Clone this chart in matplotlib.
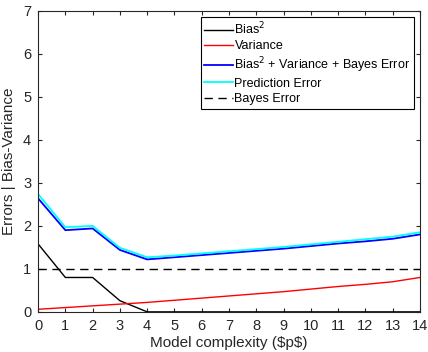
import matplotlib
matplotlib.use("Agg")
import matplotlib.pyplot as plt

plt.rcParams["font.family"] = ["Liberation Sans", "DejaVu Sans"]

complexity = list(range(15))
bias_sq = [1.58, 0.80, 0.80, 0.26, 0.0, 0.0, 0.0, 0.0, 0.0, 0.0, 0.0, 0.0, 0.0, 0.0, 0.0]
variance = [0.06, 0.10, 0.14, 0.18, 0.22, 0.27, 0.32, 0.37, 0.42, 0.47, 0.53, 0.59, 0.64, 0.70, 0.80]
total = [2.64, 1.90, 1.94, 1.44, 1.22, 1.27, 1.32, 1.37, 1.42, 1.47, 1.53, 1.59, 1.64, 1.70, 1.80]
pred_error = [2.74, 1.97, 2.00, 1.49, 1.27, 1.31, 1.36, 1.41, 1.46, 1.51, 1.57, 1.63, 1.69, 1.75, 1.85]
bayes_error = [1.0] * 15


def main():
    fig = plt.figure(figsize=(4.28, 3.52), dpi=100)
    ax = fig.add_axes([0.089, 0.114, 0.892, 0.855])

    ax.plot(complexity, bias_sq, color="black", linewidth=1.0, label="Bias$^2$")
    ax.plot(complexity, variance, color="red", linewidth=1.0, label="Variance")
    ax.plot(complexity, total, color="blue", linewidth=1.3,
            label="Bias$^2$ + Variance + Bayes Error")
    ax.plot(complexity, pred_error, color="cyan", linewidth=1.3, label="Prediction Error")
    ax.plot(complexity, bayes_error, color="black", linestyle=(0, (6, 4)), linewidth=1.0,
            label="Bayes Error")

    ax.set_xlim(0, 14)
    ax.set_ylim(0, 7)
    ax.set_xticks(complexity)
    ax.set_yticks(range(8))
    ax.tick_params(direction="in", top=True, right=True, labelsize=10.5, length=3, pad=5,
                   colors="#262626", labelcolor="#262626")
    for spine in ax.spines.values():
        spine.set_color("#262626")
        spine.set_linewidth(0.8)
    ax.set_xlabel("Model complexity (\\$p\\$)", fontsize=11, color="#262626", labelpad=2)
    ax.set_ylabel("Errors | Bias-Variance", fontsize=11, color="#262626", labelpad=5)

    leg = ax.legend(loc="upper right", fontsize=9, handlelength=2.3, handletextpad=0.1,
                    borderpad=0.3, labelspacing=0.25, borderaxespad=0.45,
                    fancybox=False, framealpha=1)
    leg.get_frame().set_edgecolor("black")
    leg.get_frame().set_linewidth(0.8)

    fig.savefig("out.png", dpi=100)


if __name__ == "__main__":
    main()
